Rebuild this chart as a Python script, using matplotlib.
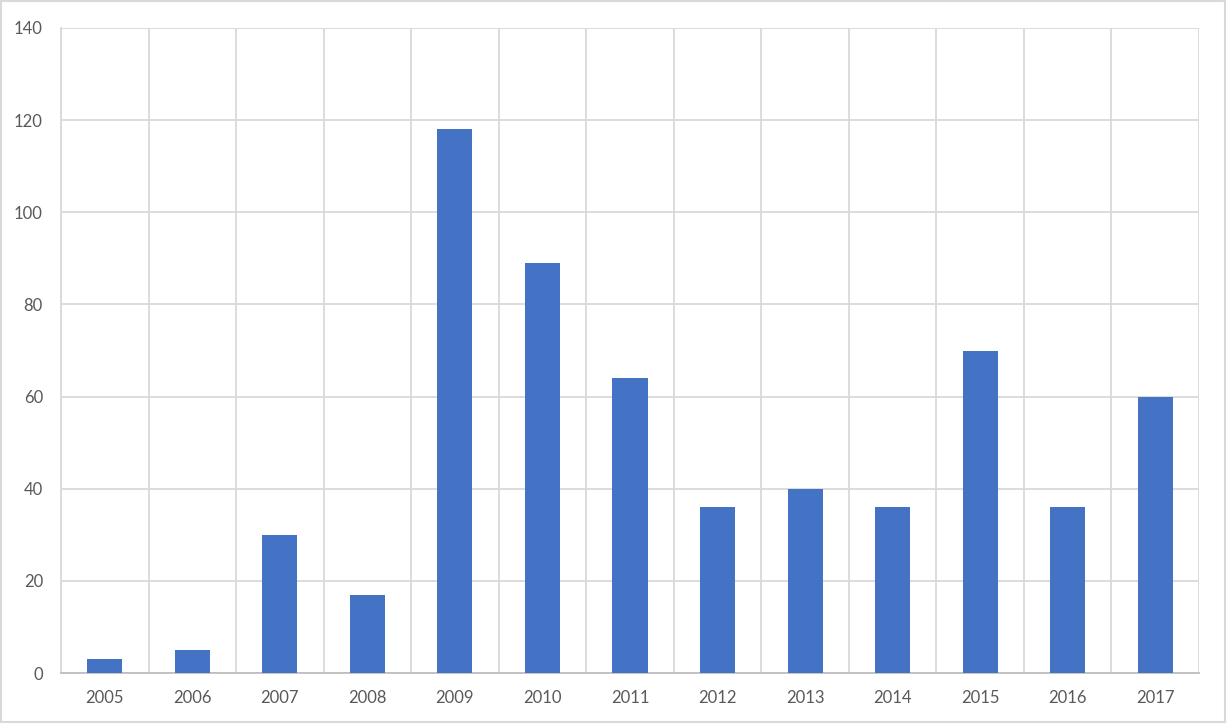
import matplotlib.pyplot as plt
import numpy as np

# data
years = ["2005", "2006", "2007", "2008", "2009", "2010", "2011",
         "2012", "2013", "2014", "2015", "2016", "2017"]
counts = [3, 5, 30, 17, 118, 89, 64, 36, 40, 36, 70, 36, 60]

plt.rcParams['font.family'] = ['Lato', 'DejaVu Sans']

fig = plt.figure(figsize=(12.27, 7.23), dpi=100)
ax = fig.add_axes([61/1227, 50/723, 1138/1227, 645/723])

x = np.arange(len(years))
ax.bar(x, counts, width=0.4, color="#4472C4", zorder=3)

ax.set_xlim(-0.5, len(years) - 0.5)
ax.set_ylim(0, 140)
ax.set_yticks(range(0, 141, 20))
ax.set_xticks(x)
ax.set_xticklabels(years)

# category boundary gridlines, excel style
ax.set_xticks(np.arange(-0.5, len(years), 1), minor=True)
ax.grid(axis="x", which="minor", color="#D9D9D9", linewidth=1.3, zorder=0)
ax.grid(axis="y", which="major", color="#D9D9D9", linewidth=1.3, zorder=0)

for side in ["top", "right"]:
    ax.spines[side].set_visible(False)
ax.spines["left"].set_color("#D9D9D9")
ax.spines["left"].set_linewidth(1.3)
ax.spines["bottom"].set_color("#BFBFBF")
ax.spines["bottom"].set_linewidth(1.3)

ax.tick_params(axis="both", which="both", length=0, labelsize=12, colors="#595959")
ax.tick_params(axis="y", pad=13)
ax.tick_params(axis="x", pad=12)

# light frame round the whole chart
fig.patches.append(plt.Rectangle((0.001, 0.002), 0.997, 0.996, transform=fig.transFigure,
                                 fill=False, edgecolor="#D9D9D9", linewidth=1.5))

fig.savefig("out.png", dpi=100)
